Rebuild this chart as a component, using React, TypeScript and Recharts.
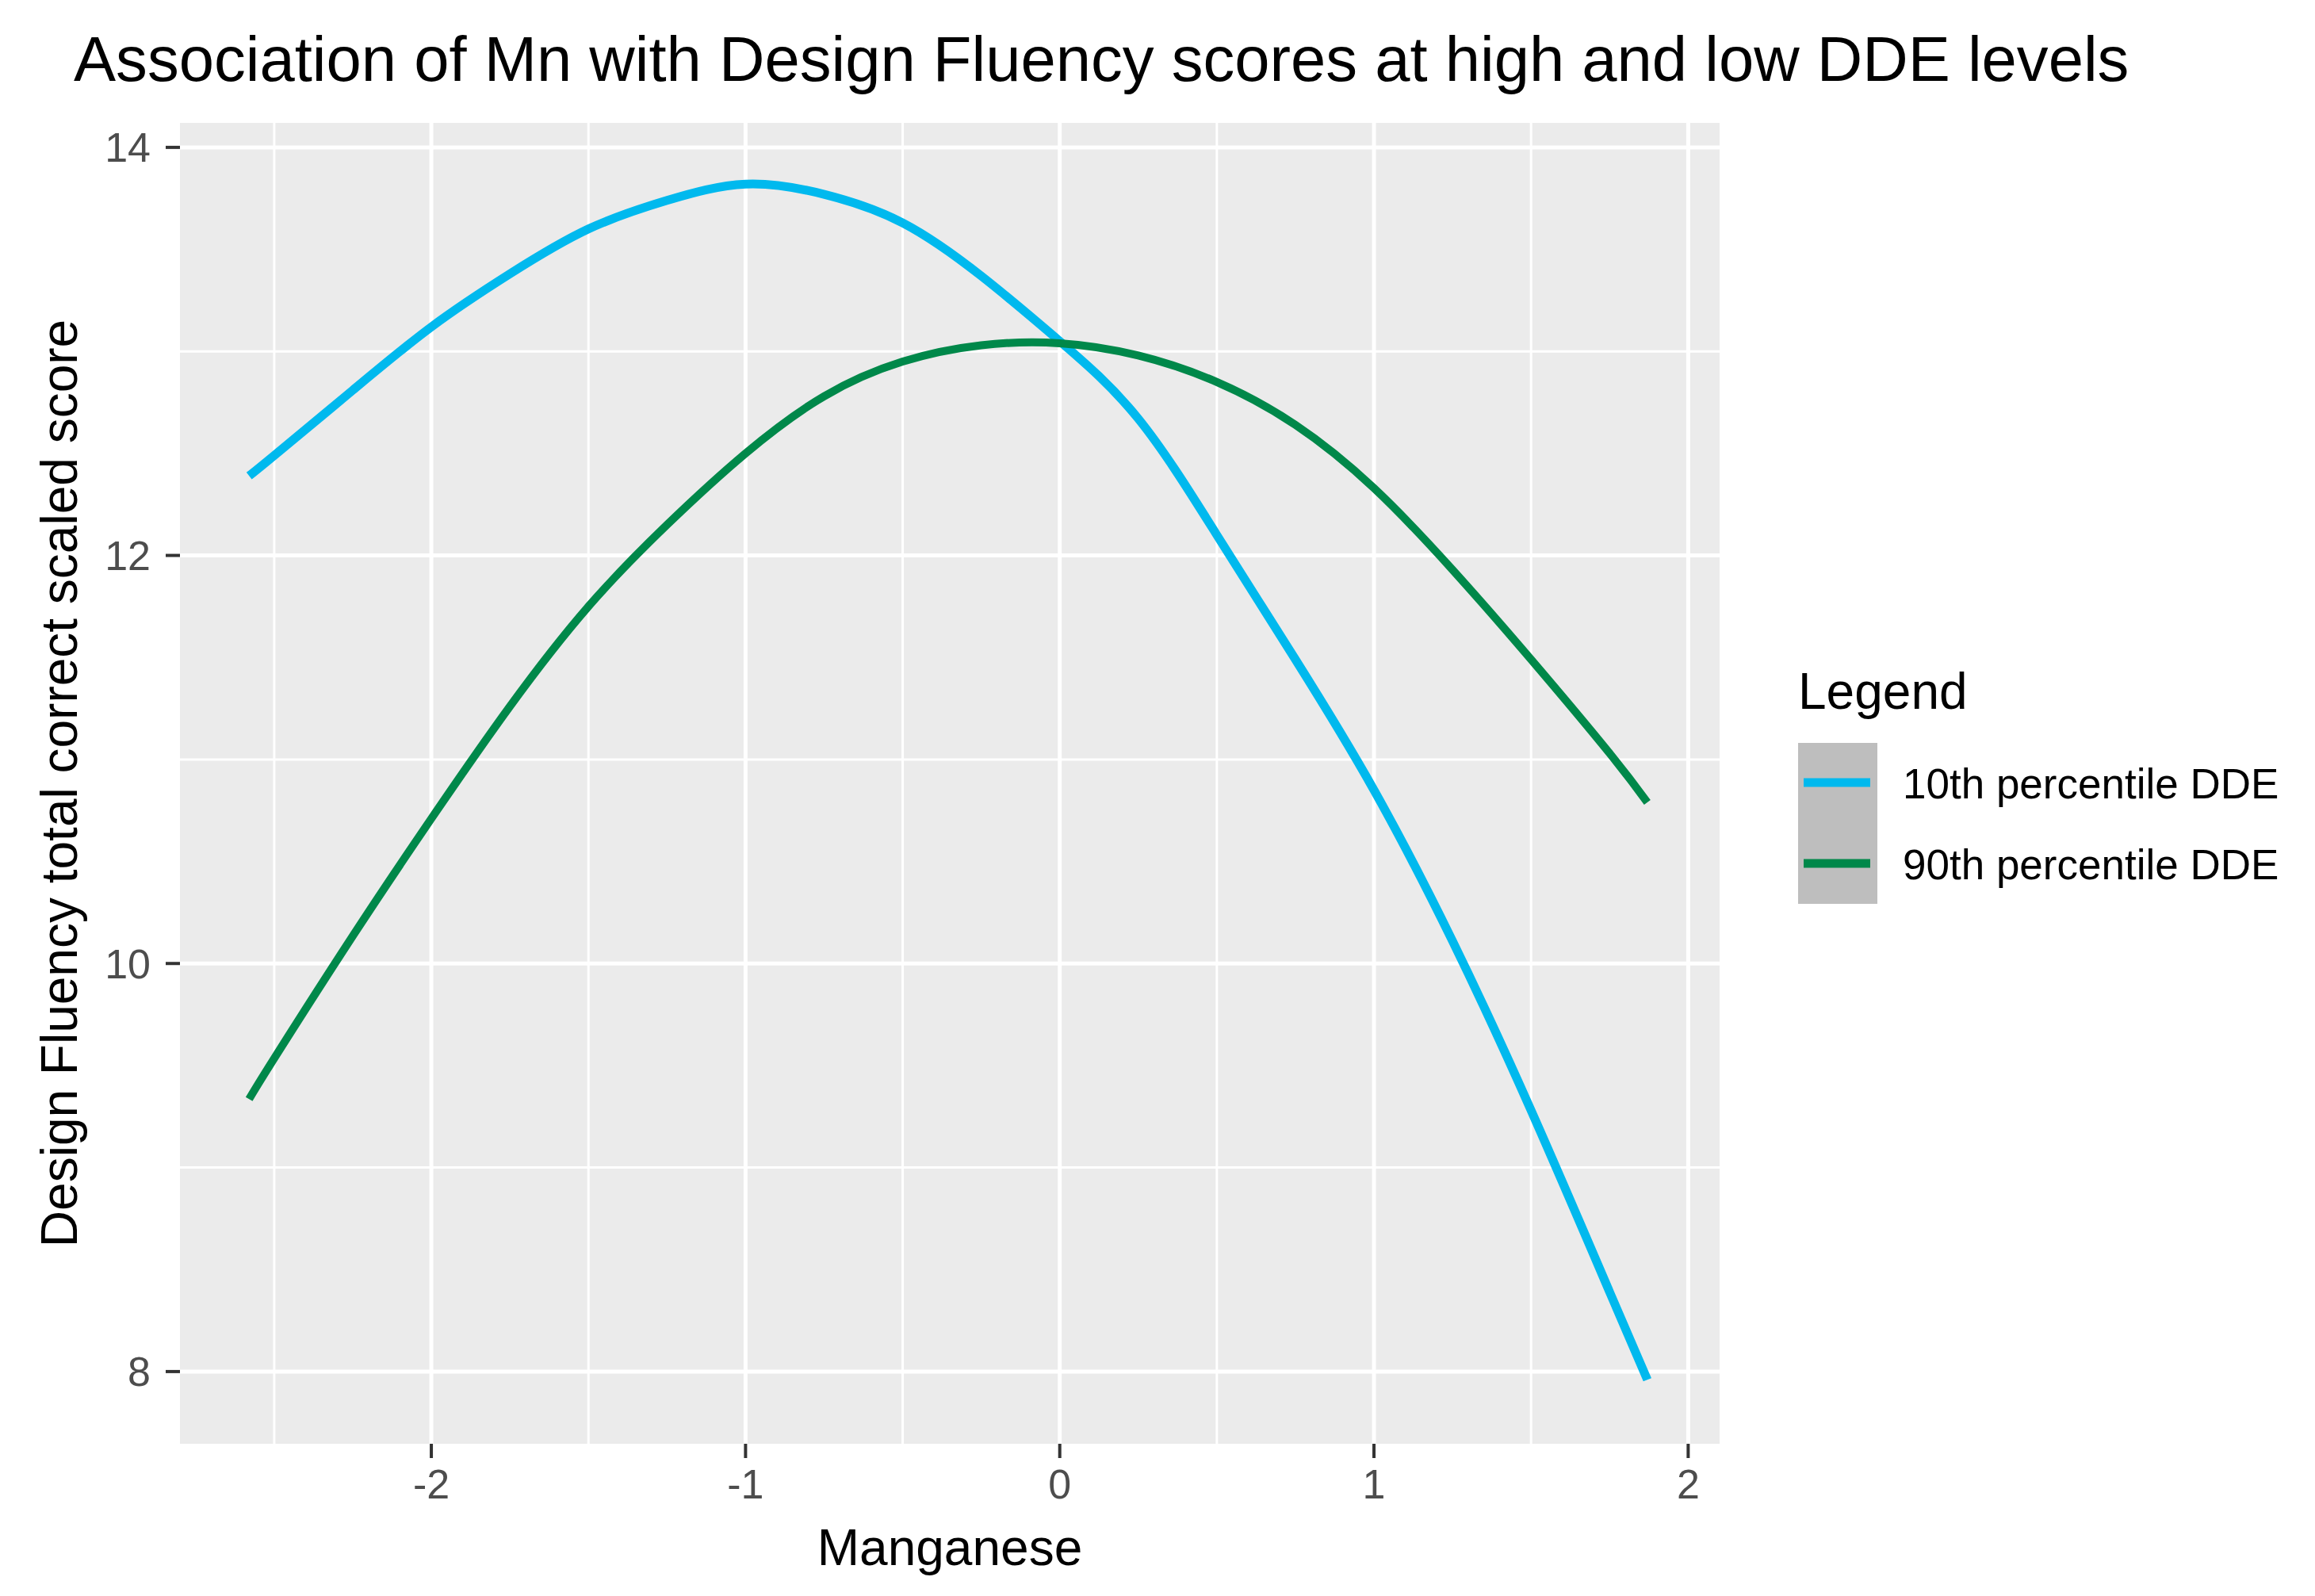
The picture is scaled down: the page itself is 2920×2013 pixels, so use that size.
import React from 'react';
import { CartesianGrid, Legend, Line, LineChart, XAxis, YAxis } from 'recharts';

const mn = [-2.58, -2.5, -2.25, -2, -1.75, -1.5, -1.25, -1, -0.75, -0.5, -0.25, 0, 0.25, 0.5, 0.75, 1, 1.25, 1.5, 1.75, 1.87];
// 10th percentile DDE
const low = [12.39, 12.49, 12.81, 13.12, 13.38, 13.6, 13.74, 13.82, 13.77, 13.63, 13.37, 13.05, 12.67, 12.1, 11.49, 10.85, 10.11, 9.28, 8.39, 7.96];
// 90th percentile DDE
const high = [9.335, 9.535, 10.135, 10.71, 11.26, 11.75, 12.15, 12.5, 12.78, 12.95, 13.03, 13.04, 12.98, 12.85, 12.64, 12.33, 11.93, 11.49, 11.03, 10.79];

const xTicks = [-2, -1, 0, 1, 2];
const xMinor = [-2.5, -1.5, -0.5, 0.5, 1.5];
const yTicks = [8, 10, 12, 14];
const yMinor = [9, 11, 13];

const data = mn.map((x, i) => ({ mn: x, low: low[i], high: high[i] }));

const FONT = '"Liberation Sans", Arial, Helvetica, sans-serif';
const BLUE = '#00B9EE';
const GREEN = '#00884A';

function LegendBox({ payload }: any) {
  const items = (payload || []).filter((p: any) => p.dataKey === 'low' || p.dataKey === 'high');
  return (
    <svg width={640} height={330} style={{ fontFamily: FONT, display: 'block' }}>
      <text x={0} y={74} fontSize={64} fill="#000">
        Legend
      </text>
      <rect x={0} y={117} width={100} height={203} fill="#BEBEBE" />
      {items.map((p: any, i: number) => (
        <g key={p.value}>
          <line x1={7} x2={91} y1={167 + i * 102} y2={167 + i * 102} stroke={p.color} strokeWidth={11} />
          <text x={132} y={187 + i * 102} fontSize={53} fill="#000">
            {p.value}
          </text>
        </g>
      ))}
    </svg>
  );
}

export default function App() {
  return (
    <div style={{ position: 'absolute', left: 0, top: 0, width: 2920, height: 2013, background: '#fff' }}>
      <LineChart width={2920} height={2013} data={data} margin={{ top: 155, right: 751, bottom: 0, left: 0 }}>
        <CartesianGrid
          fill="#EBEBEB"
          fillOpacity={1}
          stroke="#FFFFFF"
          strokeWidth={3}
          horizontalValues={yMinor}
          verticalValues={xMinor}
        />
        <CartesianGrid stroke="#FFFFFF" strokeWidth={5} horizontalValues={yTicks} verticalValues={xTicks} />
        <XAxis
          type="number"
          dataKey="mn"
          domain={[-2.8, 2.1]}
          ticks={xTicks}
          allowDataOverflow
          axisLine={false}
          height={192}
          tickSize={18}
          tickMargin={14}
          tickLine={{ stroke: '#333333', strokeWidth: 4 }}
          tick={{ fontSize: 52, fill: '#4D4D4D', fontFamily: FONT }}
        />
        <YAxis
          type="number"
          domain={[7.646, 14.12]}
          ticks={yTicks}
          allowDataOverflow
          axisLine={false}
          width={227}
          tickSize={18}
          tickMargin={19}
          tickLine={{ stroke: '#333333', strokeWidth: 4 }}
          tick={{ fontSize: 52, fill: '#4D4D4D', fontFamily: FONT }}
        />
        <Legend
          layout="vertical"
          align="center"
          verticalAlign="middle"
          content={<LegendBox />}
          wrapperStyle={{ position: 'absolute', left: 2268, top: 820, width: 640, height: 330 }}
        />
        <Line
          type="natural"
          dataKey="low"
          name="10th percentile DDE"
          stroke={BLUE}
          strokeWidth={11}
          dot={false}
          activeDot={false}
          isAnimationActive={false}
        />
        <Line
          type="natural"
          dataKey="high"
          name="90th percentile DDE"
          stroke={GREEN}
          strokeWidth={10}
          dot={false}
          activeDot={false}
          isAnimationActive={false}
        />
      </LineChart>
      <svg
        width={2920}
        height={2013}
        style={{ position: 'absolute', left: 0, top: 0, pointerEvents: 'none', fontFamily: FONT }}
      >
        <text x={93} y={102} fontSize={79.6} fill="#000">
          Association of Mn with Design Fluency scores at high and low DDE levels
        </text>
        <text x={1198} y={1974} fontSize={64} fill="#000" textAnchor="middle">
          Manganese
        </text>
        <text x={97} y={988} fontSize={64} fill="#000" textAnchor="middle" transform="rotate(-90 97 988)">
          Design Fluency total correct scaled score
        </text>
      </svg>
    </div>
  );
}
